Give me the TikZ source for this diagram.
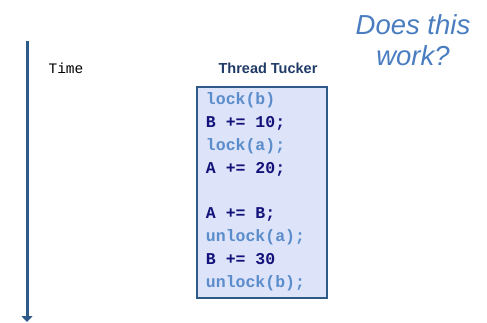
\documentclass[tikz,border=0pt]{standalone}
\usepackage{fontspec}
\setmainfont{Liberation Sans}
\setmonofont{Liberation Mono}
\usetikzlibrary{positioning, arrows.meta}

\definecolor{lockblue}{HTML}{5B8CCB}
\definecolor{opnavy}{HTML}{12127A}
\definecolor{boxline}{HTML}{2E5A88}
\definecolor{boxfill}{HTML}{DDE3F8}
\definecolor{askblue}{HTML}{4A7DC0}
\definecolor{titlenavy}{HTML}{1F3A66}

\begin{document}
\begin{tikzpicture}[x=1pt, y=1pt,
	codeline/.style={font=\ttfamily\bfseries\fontsize{16.5}{16.5}\selectfont, inner sep=0pt, text height=11.5pt, text depth=4pt},
	lockline/.style={codeline, text=lockblue},
	opline/.style={codeline, text=opnavy}]

		\useasboundingbox (0,0) rectangle (487,-323);

		% time axis %
		\coordinate (tstart) at (27,-41);
		\coordinate (tend) at (27,-322);
		\draw[boxline, line width=3, -{Triangle[width=11pt, length=6pt]}] (tstart) -- (tend);
		\node[font=\ttfamily\fontsize{14.5}{14.5}\selectfont] (time) at (66,-68) {Time};

		% thread box %
		\node[draw=boxline, fill=boxfill, line width=2.5, minimum width=130, minimum height=211, inner sep=0pt] (box) at (262,-192.5) {};
		\node[font=\bfseries\fontsize{14.5}{14.5}\selectfont, text=titlenavy] (title) at (268,-68) {Thread Tucker};

		% code lines %
		\node[lockline, anchor=north west] (l1) at ([xshift=10pt, yshift=-7pt]box.north west) {lock(b)};
		\node[opline, below right=7pt and 0pt of l1.south west] (l2) {B += 10;};
		\node[lockline, below right=7pt and 0pt of l2.south west] (l3) {lock(a);};
		\node[opline, below right=7pt and 0pt of l3.south west] (l4) {A += 20;};
		\node[opline, below right=29.5pt and 0pt of l4.south west] (l5) {A += B;};
		\node[lockline, below right=7pt and 0pt of l5.south west] (l6) {unlock(a);};
		\node[opline, below right=7pt and 0pt of l6.south west] (l7) {B += 30};
		\node[lockline, below right=7pt and 0pt of l7.south west] (l8) {unlock(b);};

		% question %
		\node[font=\itshape\fontsize{27.5}{31}\selectfont, text=askblue, align=center] (ask) at (413,-40) {Does this\\work?};

\end{tikzpicture}
\end{document}
